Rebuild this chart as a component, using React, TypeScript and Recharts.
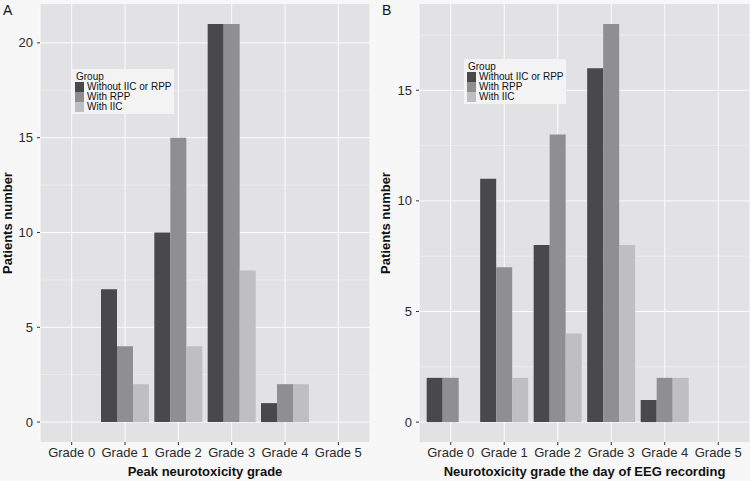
import { BarChart, Bar, XAxis, YAxis, CartesianGrid, Legend } from 'recharts'

const grades = ['Grade 0', 'Grade 1', 'Grade 2', 'Grade 3', 'Grade 4', 'Grade 5']
const groups = ['Without IIC or RPP', 'With RPP', 'With IIC']

// A: peak neurotoxicity grade
const peakWithout = [0, 7, 10, 21, 1, 0]
const peakRpp = [0, 4, 15, 21, 2, 0]
const peakIic = [0, 2, 4, 8, 2, 0]
const peakTicks = [0, 5, 10, 15, 20]

// B: neurotoxicity grade the day of EEG recording
const eegWithout = [2, 11, 8, 16, 1, 0]
const eegRpp = [2, 7, 13, 18, 2, 0]
const eegIic = [0, 2, 4, 8, 2, 0]
const eegTicks = [0, 5, 10, 15]

const minorLines = [2.5, 7.5, 12.5, 17.5]

const groupColors = ['#49494c', '#8f8f92', '#bfbfc2']
const FONT = "'Liberation Sans', Arial, Helvetica, sans-serif"

const buildRows = (without: number[], rpp: number[], iic: number[]) =>
  grades.map((grade, i) => ({ grade, without: without[i], rpp: rpp[i], iic: iic[i] }))

const YTitle = (props: any) => {
  const vb = props.viewBox ?? {}
  const x = (vb.x ?? 0) + (props.shift ?? 7)
  const y = (vb.y ?? 0) + (vb.height ?? 0) / 2
  return (
    <text
      x={x}
      y={y}
      transform={`rotate(-90 ${x} ${y})`}
      textAnchor="middle"
      dominantBaseline="central"
      fontSize={13}
      fontWeight="bold"
      fill="#111"
    >
      Patients number
    </text>
  )
}

// legend sorts alphabetically by default, keep the group order instead
const GroupLegend = ({ payload }: any) => {
  const items = [...(payload ?? [])].sort((a: any, b: any) => groups.indexOf(a.value) - groups.indexOf(b.value))
  return (
    <div
      style={{
        background: '#f3f3f4',
        padding: '2px 3px',
        fontSize: 10,
        lineHeight: '10px',
        color: '#111',
        whiteSpace: 'nowrap',
        fontFamily: FONT,
      }}
    >
      <div style={{ height: 11, lineHeight: '11px', paddingLeft: 1 }}>Group</div>
      {items.map((entry: any) => (
        <div key={entry.value} style={{ display: 'flex', alignItems: 'center', height: 10 }}>
          <span style={{ display: 'inline-block', width: 9, height: 10, background: entry.color, marginRight: 3 }} />
          <span>{entry.value}</span>
        </div>
      ))}
    </div>
  )
}

type PanelProps = {
  rows: ReturnType<typeof buildRows>
  ticks: number[]
  xTitle: string
  yAxisWidth: number
  marginRight: number
  titleShift: number
  legendLeft: number
  legendTop: number
}

const Panel = ({ rows, ticks, xTitle, yAxisWidth, marginRight, titleShift, legendLeft, legendTop }: PanelProps) => {
  const max = Math.max(...rows.flatMap((r) => [r.without, r.rpp, r.iic]))
  const pad = max * 0.05
  return (
    <BarChart
      width={375}
      height={481}
      data={rows}
      margin={{ top: 4, right: marginRight, left: 0, bottom: 0 }}
      barGap={0}
      barCategoryGap="5%"
    >
      <CartesianGrid fill="#e2e2e4" stroke="#f6f6f7" strokeWidth={0.5} vertical={false} horizontalValues={minorLines} />
      <CartesianGrid stroke="#fbfbfb" strokeWidth={1} horizontalValues={ticks} />
      <XAxis
        dataKey="grade"
        interval={0}
        height={39}
        padding={{ left: 5, right: 5 }}
        axisLine={false}
        tickLine={{ stroke: '#333' }}
        tickSize={3}
        tickMargin={3}
        tick={{ fontSize: 13, fill: '#2a2a2a' }}
        label={{ value: xTitle, position: 'insideBottom', offset: 5, fontSize: 13, fontWeight: 'bold', fill: '#111' }}
      />
      <YAxis
        type="number"
        domain={[-pad, max + pad]}
        ticks={ticks}
        allowDataOverflow
        width={yAxisWidth}
        axisLine={false}
        tickLine={{ stroke: '#333' }}
        tickSize={3}
        tickMargin={4}
        tick={{ fontSize: 13, fill: '#2a2a2a' }}
        label={<YTitle shift={titleShift} />}
      />
      <Legend
        layout="vertical"
        align="center"
        verticalAlign="middle"
        content={<GroupLegend />}
        wrapperStyle={{ left: legendLeft, top: legendTop, width: 'auto' }}
      />
      <Bar dataKey="without" name={groups[0]} fill={groupColors[0]} isAnimationActive={false} />
      <Bar dataKey="rpp" name={groups[1]} fill={groupColors[1]} isAnimationActive={false} />
      <Bar dataKey="iic" name={groups[2]} fill={groupColors[2]} isAnimationActive={false} />
    </BarChart>
  )
}

const panelLetter = (left: number): React.CSSProperties => ({
  position: 'absolute',
  left,
  top: 3,
  fontSize: 14,
  lineHeight: '14px',
  color: '#111',
})

export default function App() {
  return (
    <div
      style={{
        position: 'absolute',
        left: 0,
        top: 0,
        width: 750,
        height: 481,
        background: '#f7f7f7',
        fontFamily: FONT,
        overflow: 'hidden',
      }}
    >
      <div style={{ position: 'absolute', left: 0, top: 0 }}>
        <Panel
          rows={buildRows(peakWithout, peakRpp, peakIic)}
          ticks={peakTicks}
          xTitle="Peak neurotoxicity grade"
          yAxisWidth={40}
          marginRight={5}
          titleShift={7}
          legendLeft={72}
          legendTop={69}
        />
      </div>
      <div style={{ position: 'absolute', left: 375, top: 0 }}>
        <Panel
          rows={buildRows(eegWithout, eegRpp, eegIic)}
          ticks={eegTicks}
          xTitle="Neurotoxicity grade the day of EEG recording"
          yAxisWidth={44}
          marginRight={0}
          titleShift={10}
          legendLeft={89}
          legendTop={59}
        />
      </div>
      <span style={panelLetter(3)}>A</span>
      <span style={panelLetter(382)}>B</span>
    </div>
  )
}
